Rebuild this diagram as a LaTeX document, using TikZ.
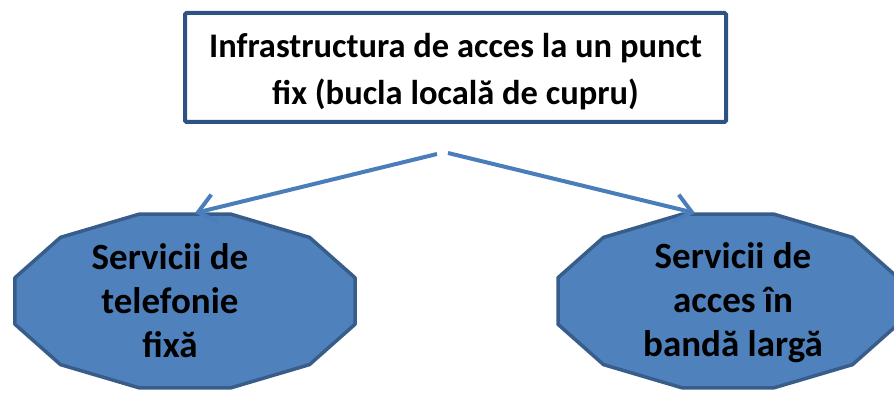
\documentclass[tikz,border=0pt]{standalone}
\usepackage{fontspec}
\setmainfont{Carlito}
\usetikzlibrary{arrows.meta}
\definecolor{fillblue}{HTML}{4F81BD}
\definecolor{edgeblue}{HTML}{385D8A}
\definecolor{boxblue}{HTML}{2F5285}
\definecolor{arrowblue}{HTML}{4A7EBB}
\begin{document}
\begin{tikzpicture}[x=1pt,y=-1pt,
  topbox/.style={draw=boxblue, line width=4pt, rounded corners=1.5pt, fill=white,
    minimum width=541pt, minimum height=109pt, inner sep=0pt},
  toptext/.style={align=center, inner sep=0pt, font=\fontsize{34.5}{47}\selectfont\bfseries},
  dodeca/.style={draw=edgeblue, fill=fillblue, line width=3.5pt, line join=round},
  svc/.style={align=center, inner sep=0pt, font=\fontsize{37}{44}\selectfont\bfseries},
  conn/.style={draw=arrowblue, line width=4pt, -{Straight Barb[length=17pt,width=28pt]}}]
\useasboundingbox (0,0) rectangle (894,393);
\clip (0,0) rectangle (894,393);
% top box
\node[topbox] (T) at (455.5,67.5) {};
\node[toptext] (Ttext) at (455.5,72) {Infrastructura de acces la un punct\\fix (bucla locală de cupru)};
% left dodecagon
\draw[dodeca] plot[variable=\t, samples at={15,45,...,345}] ({185+176*cos(\t)},{301+90*sin(\t)}) -- cycle;
% right dodecagon
\draw[dodeca] plot[variable=\t, samples at={15,45,...,345}] ({728+176*cos(\t)},{301+90*sin(\t)}) -- cycle;
\node[svc] (L) at (170,301) {Servicii de\\telefonie\\fixă};
\node[svc] (R) at (733,303) {Servicii de\\acces în\\bandă largă};
% connectors
\coordinate (s1) at (437,154);
\coordinate (s2) at (448,153);
\coordinate (t1) at (195,213);
\coordinate (t2) at (695,213);
\draw[conn] (s1) -- (t1);
\draw[conn] (s2) -- (t2);
\end{tikzpicture}
\end{document}
